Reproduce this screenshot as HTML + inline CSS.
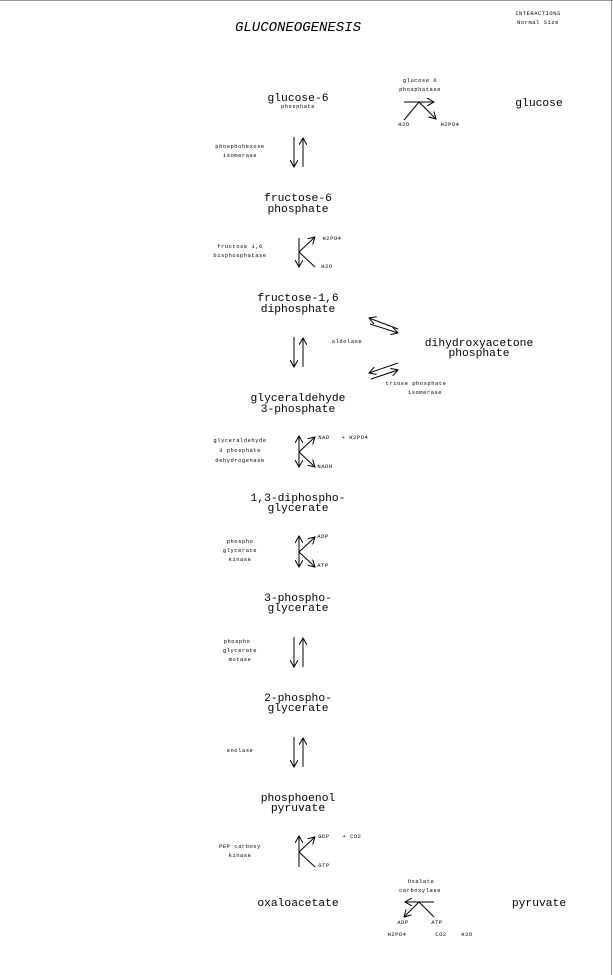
<!DOCTYPE html>
<html><head><meta charset="utf-8"><style>
html,body{margin:0;padding:0;background:#fff;}
svg{display:block;}
text{font-family:"Liberation Mono",monospace;fill:#000;}
.n{font-size:11.3px;text-anchor:middle;}
.t{font-size:5.5px;text-anchor:middle;letter-spacing:0.5px;}
line,path{stroke:#000;stroke-width:1;fill:none;}
</style></head><body>
<svg width="613" height="975" viewBox="0 0 613 975" xmlns="http://www.w3.org/2000/svg">
<defs><marker id="a" markerWidth="8" markerHeight="8" refX="7" refY="4" orient="auto" markerUnits="userSpaceOnUse"><path d="M0,0 L7,4 L0,8"/></marker></defs>
<line x1="0" y1="0.5" x2="613" y2="0.5" style="stroke:#999"/>
<line x1="611.5" y1="0" x2="611.5" y2="975" style="stroke:#999"/>
<text x="298" y="31" class="n" style="font-style:italic;font-size:14px">GLUCONEOGENESIS</text>
<text x="538" y="15" class="t">INTERACTIONS</text>
<text x="538" y="24" class="t">Normal Size</text>

<text x="298" y="101" class="n">glucose-6</text>
<text x="298" y="108" class="t">phosphate</text>
<text x="539" y="106" class="n">glucose</text>
<text x="420" y="82" class="t">glucose 6</text>
<text x="420" y="91" class="t">phosphatase</text>
<line x1="404" y1="102" x2="434" y2="102" marker-end="url(#a)"/>
<line x1="404" y1="120" x2="419" y2="102"/>
<line x1="419" y1="102" x2="436" y2="119" marker-end="url(#a)"/>
<text x="404" y="126" class="t">H2O</text><text x="450" y="126" class="t">H2PO4</text>

<text x="240" y="148" class="t">phosphohexose</text><text x="240" y="157" class="t">isomerase</text>
<line x1="294" y1="137" x2="294" y2="167" marker-end="url(#a)"/>
<line x1="303" y1="167" x2="303" y2="138" marker-end="url(#a)"/>

<text x="298" y="201" class="n">fructose-6</text>
<text x="298" y="212" class="n">phosphate</text>
<text x="240" y="248" class="t">fructose 1,6</text><text x="240" y="257" class="t">bisphosphatase</text>
<line x1="299" y1="238" x2="299" y2="267" marker-end="url(#a)"/>
<line x1="299" y1="252" x2="315" y2="237" marker-end="url(#a)"/>
<line x1="299" y1="252" x2="315" y2="267"/>
<text x="332" y="240" class="t">H2PO4</text><text x="327" y="268" class="t">H2O</text>

<text x="298" y="301" class="n">fructose-1,6</text>
<text x="298" y="312" class="n">diphosphate</text>
<line x1="294" y1="337" x2="294" y2="367" marker-end="url(#a)"/>
<line x1="303" y1="367" x2="303" y2="338" marker-end="url(#a)"/>
<text x="347" y="343" class="t">aldolase</text>
<line x1="398" y1="329" x2="369" y2="318" marker-end="url(#a)"/>
<line x1="370" y1="324" x2="398" y2="333" marker-end="url(#a)"/>
<line x1="398" y1="363" x2="369" y2="373" marker-end="url(#a)"/>
<line x1="371" y1="379" x2="398" y2="370" marker-end="url(#a)"/>
<text x="479" y="346" class="n">dihydroxyacetone</text>
<text x="479" y="356" class="n">phosphate</text>
<text x="416" y="385" class="t">triose phosphate</text><text x="425" y="394" class="t">isomerase</text>

<text x="298" y="401" class="n">glyceraldehyde</text>
<text x="298" y="412" class="n">3-phosphate</text>
<text x="240" y="442" class="t">glyceraldehyde</text><text x="240" y="452" class="t">3 phosphate</text><text x="240" y="462" class="t">dehydrogenase</text>
<line x1="299" y1="452" x2="299" y2="436" marker-end="url(#a)"/>
<line x1="299" y1="452" x2="299" y2="467" marker-end="url(#a)"/>
<line x1="299" y1="452" x2="315" y2="437" marker-end="url(#a)"/>
<line x1="299" y1="452" x2="315" y2="467" marker-end="url(#a)"/>
<text x="324" y="439" class="t">NAD</text><text x="355" y="439" class="t">+ H2PO4</text><text x="325" y="468" class="t">NADH</text>

<text x="298" y="501" class="n">1,3-diphospho-</text>
<text x="298" y="511" class="n">glycerate</text>
<text x="240" y="543" class="t">phospho</text><text x="240" y="552" class="t">glycerate</text><text x="240" y="561" class="t">kinase</text>
<line x1="299" y1="552" x2="299" y2="536" marker-end="url(#a)"/>
<line x1="299" y1="552" x2="299" y2="567" marker-end="url(#a)"/>
<line x1="299" y1="552" x2="315" y2="537" marker-end="url(#a)"/>
<line x1="299" y1="552" x2="315" y2="567" marker-end="url(#a)"/>
<text x="323" y="538" class="t">ADP</text><text x="323" y="567" class="t">ATP</text>

<text x="298" y="601" class="n">3-phospho-</text>
<text x="298" y="611" class="n">glycerate</text>
<text x="237" y="643" class="t">phospho</text><text x="240" y="652" class="t">glycerate</text><text x="240" y="661" class="t">mutase</text>
<line x1="294" y1="637" x2="294" y2="667" marker-end="url(#a)"/>
<line x1="303" y1="667" x2="303" y2="638" marker-end="url(#a)"/>

<text x="298" y="701" class="n">2-phospho-</text>
<text x="298" y="711" class="n">glycerate</text>
<text x="240" y="752" class="t">enolase</text>
<line x1="294" y1="737" x2="294" y2="767" marker-end="url(#a)"/>
<line x1="303" y1="767" x2="303" y2="738" marker-end="url(#a)"/>

<text x="298" y="801" class="n">phosphoenol</text>
<text x="298" y="811" class="n">pyruvate</text>
<text x="240" y="848" class="t">PEP carboxy</text><text x="240" y="857" class="t">kinase</text>
<line x1="299" y1="867" x2="299" y2="836" marker-end="url(#a)"/>
<line x1="299" y1="852" x2="315" y2="837" marker-end="url(#a)"/>
<line x1="299" y1="852" x2="315" y2="867"/>
<text x="324" y="838" class="t">GDP</text><text x="352" y="838" class="t">+ CO2</text><text x="324" y="867" class="t">GTP</text>

<text x="298" y="906" class="n">oxaloacetate</text>
<text x="539" y="906" class="n">pyruvate</text>
<text x="421" y="883" class="t">Oxalate</text><text x="420" y="892" class="t">carboxylase</text>
<line x1="434" y1="902" x2="405" y2="902" marker-end="url(#a)"/>
<line x1="419" y1="902" x2="404" y2="917" marker-end="url(#a)"/>
<line x1="419" y1="902" x2="434" y2="917"/>
<text x="403" y="924" class="t">ADP</text><text x="437" y="924" class="t">ATP</text>
<text x="397" y="936" class="t">H2PO4</text><text x="441" y="936" class="t">CO2</text><text x="467" y="936" class="t">H2O</text>
</svg>
</body></html>
